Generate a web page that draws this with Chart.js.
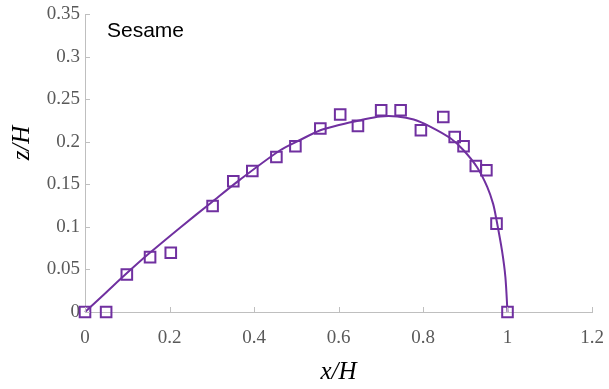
<!DOCTYPE html>
<html>
<head>
<meta charset="utf-8">
<script src="https://cdn.jsdelivr.net/npm/chart.js@4/dist/chart.umd.min.js"></script>
<style>
  html, body { margin: 0; padding: 0; background: #ffffff; }
  #wrap { width: 609px; height: 389px; }
</style>
</head>
<body>
<div id="wrap"><canvas id="c" width="609" height="389"></canvas></div>
<script>
// Measured points (x/H, z/H)
const markerX = [0, 0.05, 0.099, 0.154, 0.203, 0.302, 0.351, 0.396, 0.453, 0.498, 0.557, 0.604, 0.646, 0.701, 0.747, 0.795, 0.848, 0.875, 0.896, 0.925, 0.950, 0.974, 1.0];
const markerY = [0, 0, 0.044, 0.0645, 0.0696, 0.1245, 0.1535, 0.1656, 0.182, 0.1947, 0.2155, 0.232, 0.2186, 0.237, 0.237, 0.2135, 0.229, 0.2056, 0.1947, 0.1715, 0.1665, 0.1038, 0];

// Fitted curve
const curveX = [0, 0.05, 0.1, 0.15, 0.225, 0.3, 0.367, 0.462, 0.509, 0.557, 0.604, 0.652, 0.699, 0.739, 0.778, 0.818, 0.865, 0.896, 0.928, 0.952, 0.966, 0.974, 0.987, 0.995, 1.0];
const curveY = [0, 0.023, 0.046, 0.068, 0.099, 0.129, 0.1555, 0.190, 0.202, 0.2135, 0.220, 0.2253, 0.2296, 0.2296, 0.226, 0.2175, 0.204, 0.190, 0.170, 0.147, 0.127, 0.108, 0.072, 0.041, 0];

const xTickLabels = ["0", "0.2", "0.4", "0.6", "0.8", "1", "1.2"];
const yTickLabels = ["0", "0.05", "0.1", "0.15", "0.2", "0.25", "0.3", "0.35"];
const annotationText = "Sesame";
const yTitleText = "z/H";

const purple = "#7030A0";
const axisGray = "#BFBFBF";
const labelGray = "#595959";
const serif = "'Liberation Serif', 'Times New Roman', serif";

const innerTicks = {
  id: "innerTicks",
  afterDraw(chart) {
    const ctx = chart.ctx;
    const xs = chart.scales.x, ys = chart.scales.y;
    ctx.save();
    ctx.strokeStyle = axisGray;
    ctx.lineWidth = 1;
    xs.ticks.forEach(t => {
      const p = Math.round(xs.getPixelForValue(t.value)) + 0.5;
      ctx.beginPath();
      ctx.moveTo(p, xs.top);
      ctx.lineTo(p, xs.top - 5);
      ctx.stroke();
    });
    ys.ticks.forEach(t => {
      const p = Math.round(ys.getPixelForValue(t.value)) + 0.5;
      ctx.beginPath();
      ctx.moveTo(ys.right, p);
      ctx.lineTo(ys.right + 5, p);
      ctx.stroke();
    });
    ctx.restore();
  }
};

const annotation = {
  id: "annotation",
  afterDraw(chart) {
    const ctx = chart.ctx;
    const a = chart.chartArea;
    ctx.save();
    ctx.fillStyle = "#000000";
    ctx.font = "21px 'Liberation Sans', Arial, sans-serif";
    ctx.textBaseline = "alphabetic";
    ctx.textAlign = "left";
    ctx.fillText(annotationText, a.left + 22, a.top + 23);
    // y-axis title, placed where the reference puts it (above the axis middle)
    ctx.translate(22, a.top + 129);
    ctx.rotate(-Math.PI / 2);
    ctx.font = "italic 25px " + serif;
    ctx.textAlign = "center";
    ctx.textBaseline = "middle";
    ctx.fillText(yTitleText, 0, 0);
    ctx.restore();
  }
};

new Chart(document.getElementById("c"), {
  type: "scatter",
  data: {
    datasets: [
      {
        label: "fit",
        data: curveX.map((x, i) => ({ x: x, y: curveY[i] })),
        showLine: true,
        borderColor: purple,
        borderWidth: 2,
        pointRadius: 0,
        tension: 0.3,
        fill: false,
        clip: false
      },
      {
        label: "data",
        data: markerX.map((x, i) => ({ x: x, y: markerY[i] })),
        showLine: false,
        pointStyle: "rect",
        pointRadius: 7.5,
        pointBorderWidth: 2,
        pointBorderColor: purple,
        pointBackgroundColor: "rgba(0,0,0,0)",
        clip: false
      }
    ]
  },
  options: {
    responsive: false,
    animation: false,
    events: [],
    layout: { padding: { left: 0, right: 17, top: 14, bottom: 0 } },
    plugins: { legend: { display: false }, tooltip: { enabled: false } },
    scales: {
      x: {
        type: "linear",
        min: 0, max: 1.2,
        grid: { display: false, drawTicks: false },
        border: { display: true, color: axisGray, width: 1 },
        ticks: {
          stepSize: 0.2,
          padding: 15,
          color: labelGray,
          font: { family: serif, size: 19 },
          callback: (v, i) => xTickLabels[i]
        },
        title: {
          display: true,
          text: "x/H",
          color: "#000000",
          padding: { top: 0, bottom: 2 },
          font: { family: serif, size: 25, style: "italic" }
        },
        afterFit(s) { s.height = 77; s.paddingLeft = 0; s.paddingRight = 0; }
      },
      y: {
        type: "linear",
        min: 0, max: 0.35,
        grid: { display: false, drawTicks: false },
        border: { display: true, color: axisGray, width: 1 },
        ticks: {
          stepSize: 0.05,
          padding: 5,
          color: labelGray,
          font: { family: serif, size: 19 },
          callback: (v, i) => yTickLabels[i]
        },
        title: { display: false },
        afterFit(s) { s.width = 85; s.paddingTop = 0; s.paddingBottom = 0; }
      }
    }
  },
  plugins: [innerTicks, annotation]
});
</script>
</body>
</html>
